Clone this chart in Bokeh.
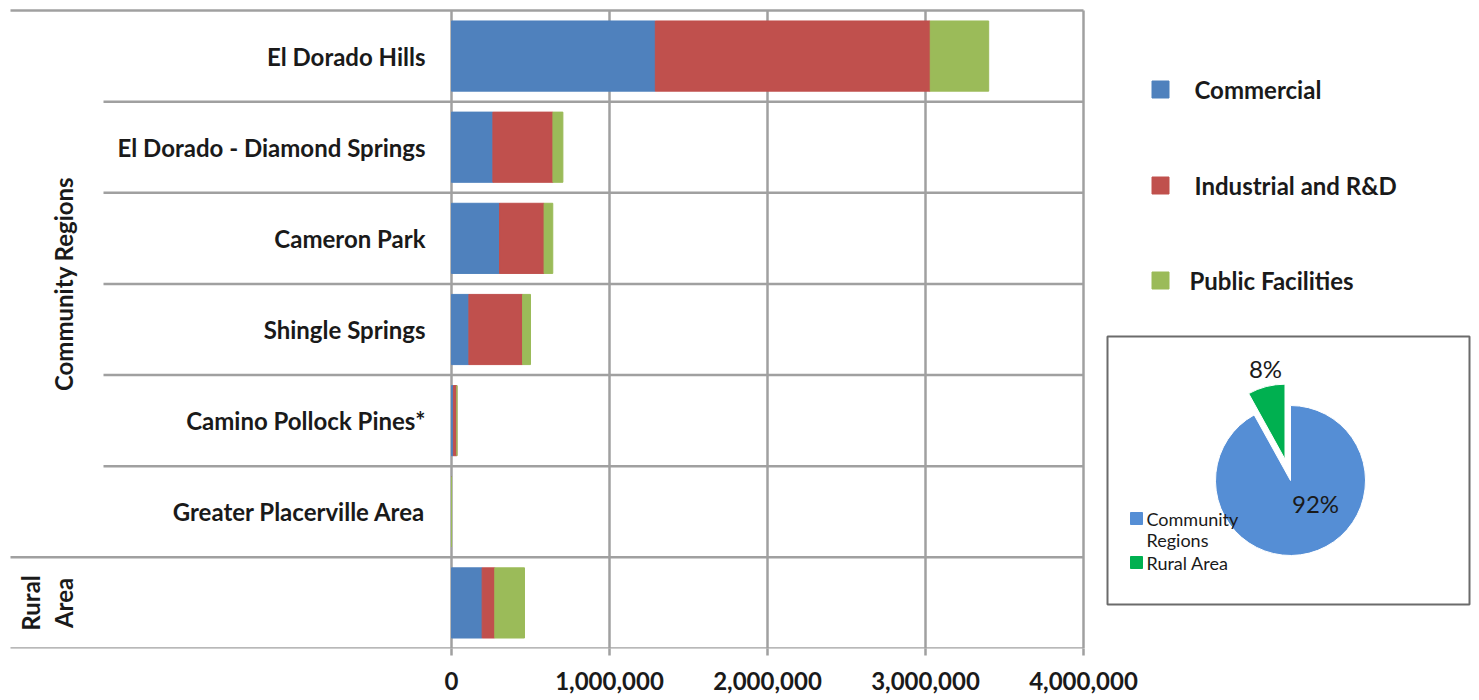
import math
from bokeh.plotting import figure
from bokeh.models import Range1d, FixedTicker, NumeralTickFormatter, ColumnDataSource
from bokeh.core.properties import value
from bokeh.embed import file_html
from bokeh.resources import INLINE

# ---------------- data ----------------
regions = ["El Dorado Hills", "El Dorado - Diamond Springs", "Cameron Park",
           "Shingle Springs", "Camino Pollock Pines*", "Greater Placerville Area", ""]
groups = ["Community Regions", "Rural\nArea"]
group_sizes = [6, 1]
series = ["Commercial", "Industrial and R&D", "Public Facilities"]
commercial = [1290000, 262000, 304000, 110000, 12000, 0, 194000]
industrial = [1740000, 380000, 282000, 340000, 22000, 0, 80000]
public = [370000, 63000, 55000, 50000, 0, 0, 188000]
x_ticks = [0, 1000000, 2000000, 3000000, 4000000]
pie_labels = ["Community\nRegions", "Rural Area"]

# ---------------- layout constants ----------------
W, H = 1479, 700
BOTTOM_BORDER = 52
FRAME_H = H - BOTTOM_BORDER
LEFT_PX, RIGHT_PX = 451, 1083
TOP_PAD_PX = 10
X_MAX = x_ticks[-1]
dpp = X_MAX / (RIGHT_PX - LEFT_PX)
n = len(regions)
row_px = (FRAME_H - TOP_PAD_PX) / n

bar_colors = ["#4f81bd", "#c0504d", "#9bbb59"]
pie_colors = ["#558ed5", "#00b050"]
line_col = "#a0a0a0"
txt_col = "#1a1a1a"
FONT = "Lato"
BIG = "24px"

def top(v):
    """convert a distance from the top of the frame into the px y-range"""
    return FRAME_H - v

p = figure(width=W, height=H, output_backend="svg", toolbar_location=None,
           x_range=Range1d(-LEFT_PX * dpp, (W - LEFT_PX) * dpp),
           y_range=Range1d(-0.5, n - 0.5 + TOP_PAD_PX / row_px),
           y_axis_location=None, min_border=0, min_border_bottom=BOTTOM_BORDER)
p.extra_x_ranges = {"px": Range1d(0, W)}
p.extra_y_ranges = {"px": Range1d(0, FRAME_H)}
p.grid.visible = False
p.outline_line_color = None
p.background_fill_color = "white"
p.border_fill_color = "white"

# y positions: first region at top
ys = [n - 1 - i for i in range(n)]
src = ColumnDataSource(dict(y=ys, name=regions, commercial=commercial,
                            industrial=industrial, public=public))

# vertical grid lines (incl. 0 and 4M border)
p.segment(x0=x_ticks, x1=x_ticks, y0=[-0.5] * len(x_ticks), y1=[n - 0.5] * len(x_ticks),
          line_color=line_col, line_width=2.5)

# horizontal separators
bounds = [n - 0.5 - k for k in range(n + 1)]  # top .. bottom
group_edges = {n - 0.5}
acc = 0
for s in group_sizes:
    acc += s
    group_edges.add(n - 0.5 - acc)
x0s = [10 if b in group_edges else 103 for b in bounds]
p.segment(x0=x0s, x1=[RIGHT_PX] * len(bounds), y0=bounds, y1=bounds,
          line_color=line_col, line_width=2.5, x_range_name="px")

# stacked bars
p.hbar_stack(["commercial", "industrial", "public"], y="y", height=0.77,
             color=bar_colors, source=src)

# row labels
p.text(x=[425] * n, y=ys, text=regions, x_range_name="px",
       text_align="right", text_baseline="middle", text_font=value(FONT),
       text_font_style="bold", text_font_size=BIG, text_color=txt_col)

# group labels
gy = []
acc = 0
for s in group_sizes:
    gy.append(n - 0.5 - acc - s / 2)
    acc += s
p.text(x=[63, 46.5], y=gy, text=groups, x_range_name="px", angle=math.pi / 2,
       text_align="center", text_baseline="middle", text_font=value(FONT),
       text_font_style="bold", text_font_size=BIG, text_color=txt_col,
       text_line_height=1.15)

# x axis
ax = p.xaxis[0]
ax.ticker = FixedTicker(ticks=x_ticks)
ax.formatter = NumeralTickFormatter(format="0,0")
ax.axis_line_color = None
ax.major_tick_in = 0
ax.major_tick_out = 7
ax.major_tick_line_color = line_col
ax.major_tick_line_width = 2.5
ax.minor_tick_line_color = None
ax.major_label_standoff = 16
ax.major_label_text_font = FONT
ax.major_label_text_font_style = "bold"
ax.major_label_text_font_size = BIG
ax.major_label_text_color = txt_col

# legend (bar series)
leg_y = [89, 185, 280]
p.rect(x=[1160] * 3, y=[top(v) for v in leg_y], width=17, height=17,
       width_units="screen", height_units="screen", color=bar_colors,
       x_range_name="px", y_range_name="px")
p.text(x=[1194, 1194, 1189], y=[top(v) for v in leg_y], text=series,
       x_range_name="px", y_range_name="px", text_baseline="middle",
       text_font=value(FONT), text_font_style="bold", text_font_size=BIG,
       text_color=txt_col)

# ---------------- pie inset ----------------
p.quad(left=[1107], right=[1469], top=[top(336)], bottom=[top(604)],
       fill_color="white", line_color="#6b6b6b", line_width=2,
       x_range_name="px", y_range_name="px")

comm_total = sum(sum(v[:group_sizes[0]]) for v in (commercial, industrial, public))
rural_total = sum(sum(v[group_sizes[0]:]) for v in (commercial, industrial, public))
shares = [comm_total / (comm_total + rural_total), rural_total / (comm_total + rural_total)]
cx, cy, r = 1290, top(480), 75
rural_ang = shares[1] * 2 * math.pi
start_rural = math.pi / 2
end_rural = math.pi / 2 + rural_ang
mid = (start_rural + end_rural) / 2
off = 22
p.wedge(x=[cx], y=[cy], radius=r, radius_units="screen",
        start_angle=end_rural, end_angle=start_rural + 2 * math.pi,
        fill_color=pie_colors[0], line_color="white", line_width=1,
        x_range_name="px", y_range_name="px")
p.wedge(x=[cx + off * math.cos(mid)], y=[cy + off * math.sin(mid)], radius=r,
        radius_units="screen", start_angle=start_rural, end_angle=end_rural,
        fill_color=pie_colors[1], line_color="white", line_width=1,
        x_range_name="px", y_range_name="px")
pct = [f"{round(s * 100)}%" for s in shares]
p.text(x=[1315, 1265], y=[top(503), top(368)], text=pct, x_range_name="px",
       y_range_name="px", text_align="center", text_baseline="middle",
       text_font=value(FONT), text_font_size=BIG, text_color=txt_col)

# pie legend
p.rect(x=[1136, 1136], y=[top(518), top(562)], width=12, height=12,
       width_units="screen", height_units="screen", color=pie_colors,
       x_range_name="px", y_range_name="px")
p.text(x=[1146, 1146], y=[top(529), top(562)], text=pie_labels,
       x_range_name="px", y_range_name="px", text_baseline="middle",
       text_font=value(FONT), text_font_size="18px", text_color=txt_col,
       text_line_height=0.95)

open("out.html", "w").write(file_html(p, INLINE))
